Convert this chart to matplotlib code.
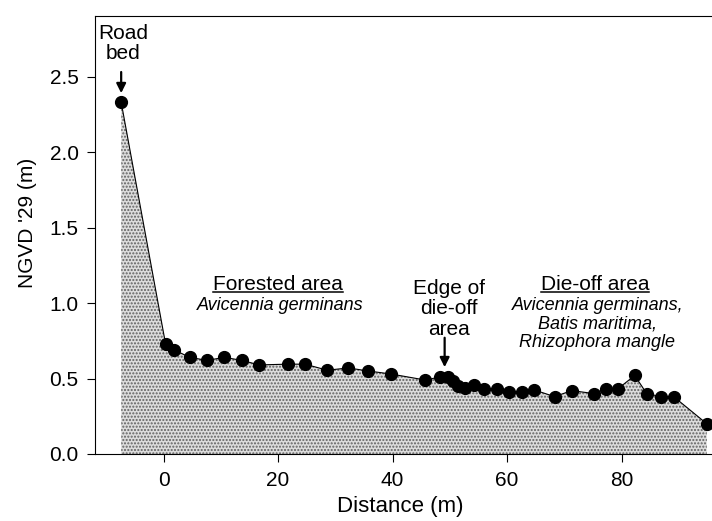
import matplotlib.pyplot as plt

plt.rcParams["font.family"] = ["Liberation Sans", "DejaVu Sans"]

# distance along transect (m) and elevation (m, NGVD '29)
distance = [-7.4, 0.35, 1.8, 4.6, 7.6, 10.6, 13.7, 16.7, 21.7, 24.7, 28.6,
            32.3, 35.7, 39.7, 45.7, 48.3, 49.6, 50.6, 51.5, 52.6, 54.3,
            55.9, 58.2, 60.4, 62.7, 64.7, 68.3, 71.3, 75.2, 77.2, 79.3,
            82.3, 84.4, 86.9, 89.1, 94.9]
elevation = [2.33, 0.73, 0.69, 0.64, 0.62, 0.64, 0.62, 0.59, 0.595, 0.595, 0.555,
             0.57, 0.55, 0.53, 0.49, 0.51, 0.51, 0.485, 0.45, 0.44, 0.455,
             0.43, 0.43, 0.41, 0.41, 0.425, 0.38, 0.42, 0.40, 0.43, 0.43,
             0.52, 0.40, 0.38, 0.38, 0.20]

x_ticks = [0, 20, 40, 60, 80]
y_ticks = [0.0, 0.5, 1.0, 1.5, 2.0, 2.5]

fig = plt.figure(figsize=(7.12, 5.21), dpi=100)
ax = fig.add_axes([0.134, 0.1286, 0.866, 0.8404])

ax.fill_between(distance, elevation, 0, facecolor="#dcdcdc",
                edgecolor="#606060", hatch=".....", linewidth=0, zorder=1)
ax.plot(distance, elevation, color="black", linewidth=0.8, marker="o",
        markersize=8.5, zorder=3)

ax.set_xlim(-11.9, 95.8)
ax.set_ylim(0, 2.9)
ax.set_xticks(x_ticks)
ax.set_yticks(y_ticks)
ax.set_yticklabels([f"{v:.1f}" for v in y_ticks])
ax.tick_params(direction="out", length=6, width=0.8, labelsize=15, pad=6)
ax.spines["right"].set_visible(False)
ax.set_xlabel("Distance (m)", fontsize=16)
ax.set_ylabel("NGVD '29 (m)", fontsize=15)
ax.xaxis.set_label_coords(0.495, -0.096)
ax.yaxis.set_label_coords(-0.095, 0.527)

arrow = dict(arrowstyle="-|>", color="black", lw=1.6, mutation_scale=14,
             shrinkA=0, shrinkB=0)

# road bed
ax.text(-7.1, 2.85, "Road\nbed", ha="center", va="top", fontsize=15,
        linespacing=1.1)
ax.annotate("", xy=(-7.4, 2.39), xytext=(-7.4, 2.53), arrowprops=arrow)

# forested area
t1 = ax.text(20, 1.085, "Forested area", ha="center", va="baseline", fontsize=15)
ax.text(20.3, 0.952, "Avicennia germinans", ha="center", va="baseline",
        fontsize=13, style="italic")

# edge of die-off
ax.text(49.8, 1.16, "Edge of\ndie-off\narea", ha="center", va="top",
        fontsize=15, linespacing=1.1)
ax.annotate("", xy=(49.1, 0.575), xytext=(49.1, 0.77), arrowprops=arrow)

# die-off area
t2 = ax.text(75.4, 1.085, "Die-off area", ha="center", va="baseline", fontsize=15)
ax.text(75.8, 1.04, "Avicennia germinans,\nBatis maritima,\nRhizophora mangle",
        ha="center", va="top", fontsize=13, style="italic", linespacing=1.1)

# underline the two headings
fig.canvas.draw()
inv = ax.transData.inverted()
for t in (t1, t2):
    bb = t.get_window_extent()
    (x0, _), (x1, _) = inv.transform([(bb.x0, bb.y0), (bb.x1, bb.y0)])
    ax.plot([x0, x1], [1.072, 1.072], color="black", linewidth=1.1)

fig.savefig("out.png", dpi=100)
